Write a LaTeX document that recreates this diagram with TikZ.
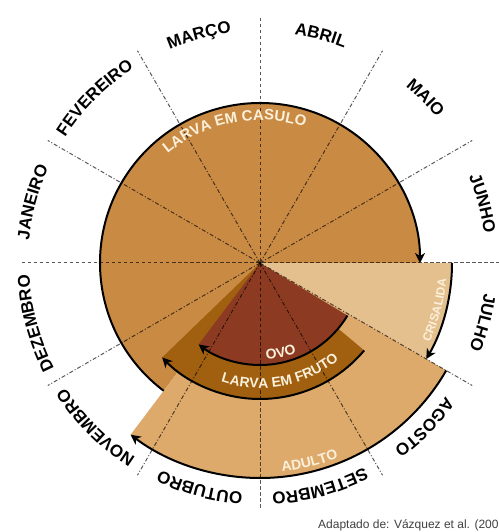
\documentclass[tikz,border=0pt]{standalone}
\usepackage{fontspec}
\setmainfont{Liberation Sans}
\usetikzlibrary{decorations.text,arrows.meta}
\definecolor{casulo}{HTML}{C98A44}
\definecolor{cris}{HTML}{E5C08F}
\definecolor{adulto}{HTML}{DDAA6C}
\definecolor{fruto}{HTML}{A0600F}
\definecolor{ovo}{HTML}{8C3B22}
\definecolor{lbl}{HTML}{FBF0DA}
\definecolor{tipcol}{HTML}{15152A}
\newcommand\mfont{\fontsize{17}{17}\selectfont\bfseries}
\begin{document}
\begin{tikzpicture}[x=1pt,y=1pt,
  cycarrow/.style={line width=2pt, black, -{Stealth[length=10pt,width=10pt,inset=3pt,fill=tipcol]}},
  radline/.style={line width=1pt, black, opacity=0.65, dash pattern=on 4pt off 2pt on 1pt off 2pt},
  axisline/.style={line width=1pt, black, opacity=0.65, dash pattern=on 3.5pt off 2.5pt},
  monthlabel/.style={decorate, decoration={text along path, text align=center, text={|\mfont|#1}}},
  phaselabel/.style 2 args={decorate, decoration={text along path, text align=center, text color=lbl, text={|\fontsize{#1}{#1}\selectfont\bfseries|#2}}},
]
\useasboundingbox (-260,-269) rectangle (238,263);
\fill[white] (-260,-269) rectangle (238,263);

% phase sectors
\fill[casulo] (0,0) -- (0:160) arc[start angle=0,end angle=233,radius=160] -- cycle;
\fill[cris] (0,0) -- (0:192) arc[start angle=0,end angle=-30,radius=192] -- cycle;
\fill[adulto] (0,0) -- (-30:215) arc[start angle=-30,end angle=-127,radius=215] -- cycle;
\fill[fruto] (0,0) -- (-40:136) arc[start angle=-40,end angle=-136,radius=136] -- cycle;
\fill[ovo] (0,0) -- (-31:102) arc[start angle=-31,end angle=-127,radius=102] -- cycle;

% month dividers
\coordinate (c) at (0,0);
\foreach \a in {30,60,120,150,210,240,300,330}
  \draw[radline] (c) -- (\a:245);
\draw[axisline] (180:238) -- (0:245);
\draw[axisline] (90:245) -- (270:245);

% phase arrows
\draw[cycarrow] (233:160) arc[start angle=233,end angle=0,radius=160];
\draw[cycarrow] (0:192) arc[start angle=0,end angle=-30,radius=192];
\draw[cycarrow] (-30:215) arc[start angle=-30,end angle=-127,radius=215];
\draw[cycarrow] (-40:136) arc[start angle=-40,end angle=-136,radius=136];
\draw[cycarrow] (-31:102) arc[start angle=-31,end angle=-127,radius=102];

% phase labels
\path[phaselabel={15}{LARVA EM CASULO}] (141:143) arc[start angle=141,end angle=61,radius=143];
\path[phaselabel={12}{CRISALIDA}] (-35:187) arc[start angle=-35,end angle=5,radius=187];
\path[phaselabel={14}{LARVA EM FRUTO}] (-115:125) arc[start angle=-115,end angle=-44,radius=125];
\path[phaselabel={14}{OVO}] (-100:97) arc[start angle=-100,end angle=-54,radius=97];
\path[phaselabel={14}{ADULTO}] (-96:210) arc[start angle=-96,end angle=-56,radius=210];

% month labels
\path[monthlabel=JANEIRO] (185:232) arc[start angle=185,end angle=145,radius=232];
\path[monthlabel=FEVEREIRO] (155:232) arc[start angle=155,end angle=115,radius=232];
\path[monthlabel=MARÇO] (125:232) arc[start angle=125,end angle=85,radius=232];
\path[monthlabel=ABRIL] (95:231) arc[start angle=95,end angle=55,radius=231];
\path[monthlabel=MAIO] (65:229) arc[start angle=65,end angle=25,radius=229];
\path[monthlabel=JUNHO] (35:226) arc[start angle=35,end angle=-5,radius=226];
\path[monthlabel=JULHO] (5:226) arc[start angle=5,end angle=-35,radius=226];
\path[monthlabel=AGOSTO] (-25:229) arc[start angle=-25,end angle=-65,radius=229];
\path[monthlabel=SETEMBRO] (-55:230) arc[start angle=-55,end angle=-95,radius=230];
\path[monthlabel=OUTUBRO] (-85:230) arc[start angle=-85,end angle=-125,radius=230];
\path[monthlabel=NOVEMBRO] (-115:231) arc[start angle=-115,end angle=-155,radius=231];
\path[monthlabel=DEZEMBRO] (-145:231) arc[start angle=-145,end angle=-185,radius=231];

% caption
\node[anchor=base west, font=\fontsize{12}{12}\selectfont, text=black!75, inner sep=0pt] (caption) at (58,-265) {Adaptado de: Vázquez et al. (200};
\end{tikzpicture}
\end{document}
